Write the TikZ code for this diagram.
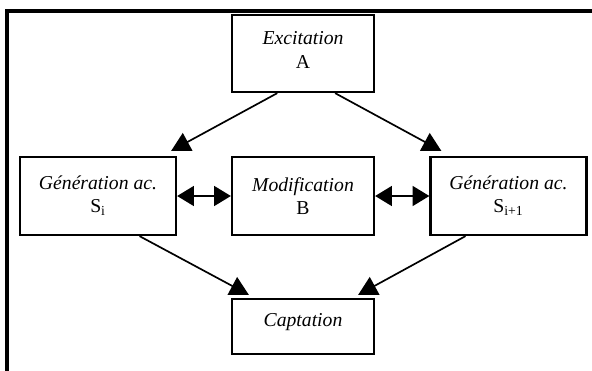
\documentclass[tikz,border=0pt]{standalone}
\usepackage{fontspec}
\setmainfont{Liberation Serif}
\usetikzlibrary{arrows.meta,calc}
\tikzset{fleche/.style={draw, -{Triangle[length=0.47cm,width=0.5cm]}, line width=1.2pt, color=black}}
\tikzset{dfleche/.style={draw, {Triangle[length=0.42cm,width=0.5cm]}-{Triangle[length=0.42cm,width=0.5cm]}, line width=1.2pt, color=black}}

\begin{document}
\begin{tikzpicture}[x=0.025cm,y=-0.025cm]
\useasboundingbox (0,0) rectangle (592,370);
\draw[line width=2.4pt] (7,380) |- (600,11);

\begin{scope}[every node/.style={draw,rectangle,line width=1.6pt,align=center,
inner sep=0pt,font = \fontsize{14}{16.5}\selectfont,fill=none}]
\node[minimum width=3.55cm, minimum height=1.925cm, text depth=5pt] (a) at (303,53.5) {\textit{Excitation}\\A};
\node[minimum width=3.9cm, minimum height=1.95cm] (si) at (98,196) {\textit{Génération ac.}\\S\textsubscript{i}};
\node[minimum width=3.55cm, minimum height=1.95cm] (b) at (303,196) {\textit{Modification}\\B};
\node[minimum width=3.9cm, minimum height=1.95cm] (sii) at (508.5,196) {\textit{Génération ac.}\\S\textsubscript{i+1}};
\node[minimum width=3.55cm, minimum height=1.375cm, text depth=9pt] (c) at (303,326.5) {\textit{Captation}};
\end{scope}

\path[fleche] (a.-123) -- ($(si.north east)+(-6,-5)$);
\path[fleche] (a.-51) -- ($(sii.north west)+(12,-5)$);
\path[dfleche] (si) -- (b);
\path[dfleche] (b) -- (sii);
\path[fleche] (si.-44) -- ($(c.north west)+(18,-3)$);
\path[fleche] (sii.-137) -- ($(c.north east)+(-17,-3)$);

\end{tikzpicture}
\end{document}
